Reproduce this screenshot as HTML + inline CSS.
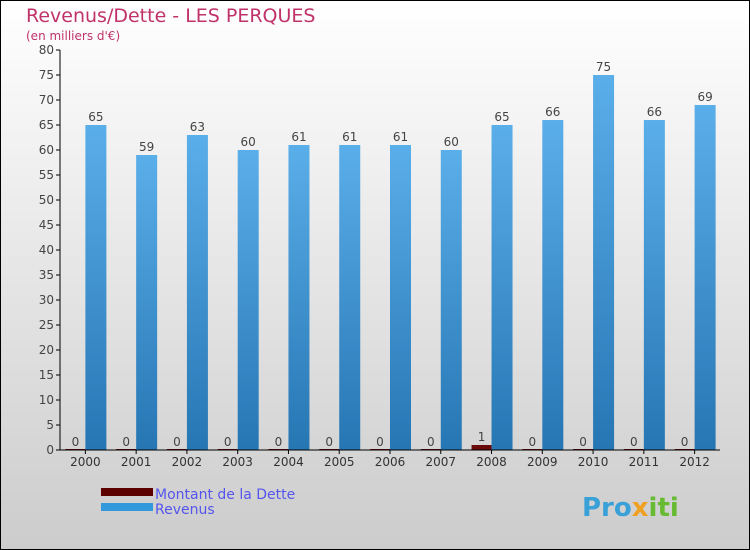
<!DOCTYPE html>
<html><head><meta charset="utf-8"><style>
body{margin:0}
#c{width:750px;height:550px;position:relative;box-sizing:border-box;border:1px solid #000;background:linear-gradient(#ffffff,#cccccc);font-family:"DejaVu Sans","Liberation Sans",sans-serif;overflow:hidden}
</style></head><body>
<div id="c">
<svg width="750" height="550" style="position:absolute;left:-1px;top:-1px" id="svg">
<defs>
<linearGradient id="rev" x1="0" y1="0" x2="0" y2="1"><stop offset="0" stop-color="#5aaee9"/><stop offset="1" stop-color="#2676b4"/></linearGradient>
</defs>
<text x="26" y="22" font-size="19" fill="#c0336a">Revenus/Dette - LES PERQUES</text>
<text x="26" y="40" font-size="12" fill="#c0336a">(en milliers d'€)</text>
<g id="g"></g>
<rect x="101" y="488" width="52" height="8" fill="#5c0000"/>
<rect x="101" y="503" width="52" height="8" fill="#3399dd"/>
<text x="155" y="499" font-size="14" fill="#5555ee">Montant de la Dette</text>
<text x="155" y="514" font-size="14" fill="#5555ee">Revenus</text>
<text x="582" y="516" font-size="26" font-weight="bold" fill="#3aa0d8">Pro<tspan fill="#f0a020">x</tspan><tspan fill="#66bb33">iti</tspan></text>
</svg>
</div>
<script>
const categories=["2000","2001","2002","2003","2004","2005","2006","2007","2008","2009","2010","2011","2012"];
const dette=[0,0,0,0,0,0,0,0,1,0,0,0,0];
const revenus=[65,59,63,60,61,61,61,60,65,66,75,66,69];
const yTicks=[0,5,10,15,20,25,30,35,40,45,50,55,60,65,70,75,80];
const X0=60,X1=720,Y0=450,Y1=50,YMAX=80;
const NS="http://www.w3.org/2000/svg";
const g=document.getElementById('g');
const bw=(X1-X0)/categories.length;
function y(v){return Y0-(v/YMAX)*(Y0-Y1);}
function xc(i){return X0+bw*(i+0.5);}
function mk(t,a,txt){const e=document.createElementNS(NS,t);for(const k in a)e.setAttribute(k,a[k]);if(txt!==undefined)e.textContent=txt;g.appendChild(e);return e;}
yTicks.forEach(v=>{
 const l=mk('line',{x1:X0-4,x2:X0,y1:y(v),y2:y(v),stroke:'#000'});
 
 
 const t=mk('text',{x:X0-6,y:y(v)+4,'text-anchor':'end','font-size':12,fill:'#444'},v);
 
 
});
categories.forEach((c,i)=>{
 const cx=xc(i);
 const d=mk('rect',{x:cx-20,y:Math.min(y(dette[i]),Y0-1),width:20,height:Math.max(Y0-y(dette[i]),1),fill:'#6b0a0a'});
 
 
 const r=mk('rect',{x:cx,y:y(revenus[i]),width:21,height:Y0-y(revenus[i]),fill:'url(#rev)'});
 
 
 const dl=mk('text',{x:cx-10,y:y(dette[i])-4,'text-anchor':'middle','font-size':12,fill:'#444'},dette[i]);
 
 
 const rl=mk('text',{x:cx+10.5,y:y(revenus[i])-4,'text-anchor':'middle','font-size':12,fill:'#444'},revenus[i]);
 
 
 const tk=mk('line',{x1:cx,x2:cx,y1:Y0,y2:Y0+4,stroke:'#000'});
 
 
 const xl=mk('text',{x:cx,y:Y0+16,'text-anchor':'middle','font-size':12,fill:'#333'},c);
 
 
});
const ya=mk('line',{x1:X0,x2:X0,y1:Y1,y2:Y0,stroke:'#000'});


const xa=mk('line',{x1:X0,x2:X1,y1:Y0,y2:Y0,stroke:'#000'});


</script>
</body></html>
